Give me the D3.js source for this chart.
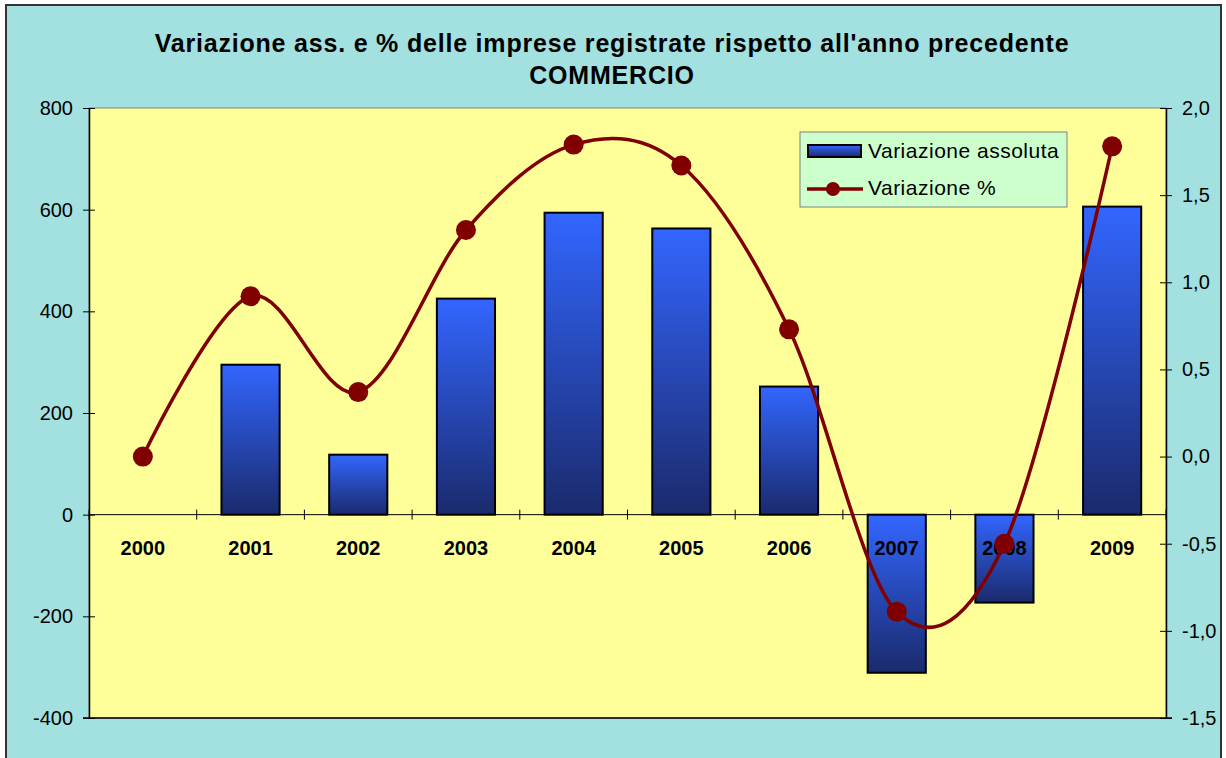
<!DOCTYPE html>
<html>
<head>
<meta charset="utf-8">
<script src="https://cdnjs.cloudflare.com/ajax/libs/d3/7.8.5/d3.min.js"></script>
<style>
  body { margin: 0; background: #fff; }
  text { font-family: "Liberation Sans", Arial, sans-serif; }
</style>
</head>
<body>
<div id="chart"></div>
<script>
// data
var years = ["2000","2001","2002","2003","2004","2005","2006","2007","2008","2009"];
var assoluta = [null, 295, 118, 425, 594, 563, 252, -311, -173, 606];
var percent = [0.0, 0.92, 0.37, 1.30, 1.79, 1.67, 0.73, -0.89, -0.50, 1.78];
var leftTicks = [-400, -200, 0, 200, 400, 600, 800];
var rightTicks = [-1.5, -1.0, -0.5, 0.0, 0.5, 1.0, 1.5, 2.0];
var titleLines = ["Variazione ass. e % delle imprese registrate rispetto all'anno precedente", "COMMERCIO"];
var seriesNames = ["Variazione assoluta", "Variazione %"];

var W = 1226, H = 758;
var plot = {left: 89, right: 1166, top: 108, bottom: 718};

var svg = d3.select("#chart").append("svg")
  .attr("width", W).attr("height", H);

var defs = svg.append("defs");
var grad = defs.append("linearGradient")
  .attr("id", "barGrad")
  .attr("x1", 0).attr("y1", 0).attr("x2", 0).attr("y2", 1);
grad.append("stop").attr("offset", "0%").attr("stop-color", "#3366ff");
grad.append("stop").attr("offset", "100%").attr("stop-color", "#1a2a6c");

// outer frame
svg.append("rect")
  .attr("x", 6).attr("y", 5).attr("width", 1215).attr("height", 760)
  .attr("fill", "#a3e0e0").attr("stroke", "#333").attr("stroke-width", 2);

// title
svg.selectAll("text.title")
  .data(titleLines)
  .enter().append("text")
  .attr("class", "title")
  .attr("x", 612)
  .attr("y", function(d, i) { return 52 + i * 32; })
  .attr("text-anchor", "middle")
  .attr("font-size", 25)
  .attr("letter-spacing", 0.8)
  .attr("font-weight", "bold")
  .text(function(d) { return d; });

// scales
var x = d3.scaleBand().domain(years)
  .range([plot.left, plot.right])
  .paddingInner(0.46).paddingOuter(0.23);
var yL = d3.scaleLinear().domain([-400, 800]).range([plot.bottom, plot.top]);
var yR = d3.scaleLinear().domain([-1.5, 2.0]).range([plot.bottom, plot.top]);

// plot area
svg.append("rect")
  .attr("x", plot.left).attr("y", plot.top)
  .attr("width", plot.right - plot.left).attr("height", plot.bottom - plot.top)
  .attr("fill", "#ffff99").attr("stroke", "#808080").attr("stroke-width", 1);

// left axis
var fmtL = function(v) { return String(v); };
var leftAxis = d3.axisLeft(yL).tickValues(leftTicks).tickSize(0).tickPadding(16).tickFormat(fmtL);
var gL = svg.append("g").attr("transform", "translate(" + plot.left + ",0)").call(leftAxis);
gL.select(".domain").attr("stroke", "#000").attr("stroke-width", 1.5);
gL.selectAll(".tick line").attr("x1", -6).attr("x2", 6).attr("stroke", "#000");
gL.selectAll(".tick text").attr("font-size", 20).attr("fill", "#000")
  .style("font-family", "'Liberation Sans', Arial, sans-serif");

// right axis
var fmtR = function(v) { return v.toFixed(1).replace(".", ","); };
var rightAxis = d3.axisRight(yR).tickValues(rightTicks).tickSize(0).tickPadding(16).tickFormat(fmtR);
var gR = svg.append("g").attr("transform", "translate(" + plot.right + ",0)").call(rightAxis);
gR.select(".domain").attr("stroke", "#000").attr("stroke-width", 1.5);
gR.selectAll(".tick line").attr("x1", -6).attr("x2", 6).attr("stroke", "#000");
gR.selectAll(".tick text").attr("font-size", 20).attr("fill", "#000")
  .style("font-family", "'Liberation Sans', Arial, sans-serif");

// bottom edge
svg.append("line")
  .attr("x1", plot.left - 6).attr("x2", plot.right + 6)
  .attr("y1", plot.bottom).attr("y2", plot.bottom)
  .attr("stroke", "#000").attr("stroke-width", 1.5);

// bars
var barData = years.map(function(y, i) { return {year: y, v: assoluta[i]}; })
  .filter(function(d) { return d.v !== null; });
svg.selectAll("rect.bar")
  .data(barData)
  .enter().append("rect")
  .attr("class", "bar")
  .attr("x", function(d) { return x(d.year); })
  .attr("width", x.bandwidth())
  .attr("y", function(d) { return yL(Math.max(0, d.v)); })
  .attr("height", function(d) { return Math.abs(yL(d.v) - yL(0)); })
  .attr("fill", "url(#barGrad)")
  .attr("stroke", "#000").attr("stroke-width", 2);

// category axis at zero
var y0 = yL(0);
svg.append("line")
  .attr("x1", plot.left).attr("x2", plot.right)
  .attr("y1", y0).attr("y2", y0)
  .attr("stroke", "#000").attr("stroke-width", 1);
var step = x.step();
var bounds = d3.range(years.length + 1).map(function(i) { return plot.left + i * step; });
svg.selectAll("line.ctick")
  .data(bounds)
  .enter().append("line")
  .attr("class", "ctick")
  .attr("x1", function(d) { return d; }).attr("x2", function(d) { return d; })
  .attr("y1", y0 - 5).attr("y2", y0 + 5)
  .attr("stroke", "#000").attr("stroke-width", 1);
svg.selectAll("text.cat")
  .data(years)
  .enter().append("text")
  .attr("class", "cat")
  .attr("x", function(d) { return x(d) + x.bandwidth() / 2; })
  .attr("y", y0 + 40)
  .attr("text-anchor", "middle")
  .attr("font-size", 20)
  .attr("font-weight", "bold")
  .text(function(d) { return d; });

// percentage line
var pts = years.map(function(y, i) { return [x(y) + x.bandwidth() / 2, yR(percent[i])]; });
var line = d3.line().curve(d3.curveCatmullRom.alpha(0));
svg.append("path")
  .attr("d", line(pts))
  .attr("fill", "none")
  .attr("stroke", "#800000").attr("stroke-width", 3.5);
svg.selectAll("circle.pt")
  .data(pts)
  .enter().append("circle")
  .attr("class", "pt")
  .attr("cx", function(d) { return d[0]; })
  .attr("cy", function(d) { return d[1]; })
  .attr("r", 10)
  .attr("fill", "#800000");

// legend
var lg = svg.append("g").attr("transform", "translate(800,132)");
lg.append("rect")
  .attr("width", 267).attr("height", 75)
  .attr("fill", "#ccffcc").attr("stroke", "#808080").attr("stroke-width", 1);
lg.append("rect")
  .attr("x", 8).attr("y", 13).attr("width", 53).attr("height", 12)
  .attr("fill", "url(#barGrad)").attr("stroke", "#000").attr("stroke-width", 2);
lg.append("line")
  .attr("x1", 7).attr("x2", 63).attr("y1", 57).attr("y2", 57)
  .attr("stroke", "#800000").attr("stroke-width", 3.5);
lg.append("circle").attr("cx", 33).attr("cy", 57).attr("r", 7).attr("fill", "#800000");
lg.selectAll("text.lt")
  .data(seriesNames)
  .enter().append("text")
  .attr("class", "lt")
  .attr("x", 68)
  .attr("y", function(d, i) { return 26 + i * 37; })
  .attr("font-size", 21)
  .attr("letter-spacing", 0.5)
  .text(function(d) { return d; });
</script>
</body>
</html>
